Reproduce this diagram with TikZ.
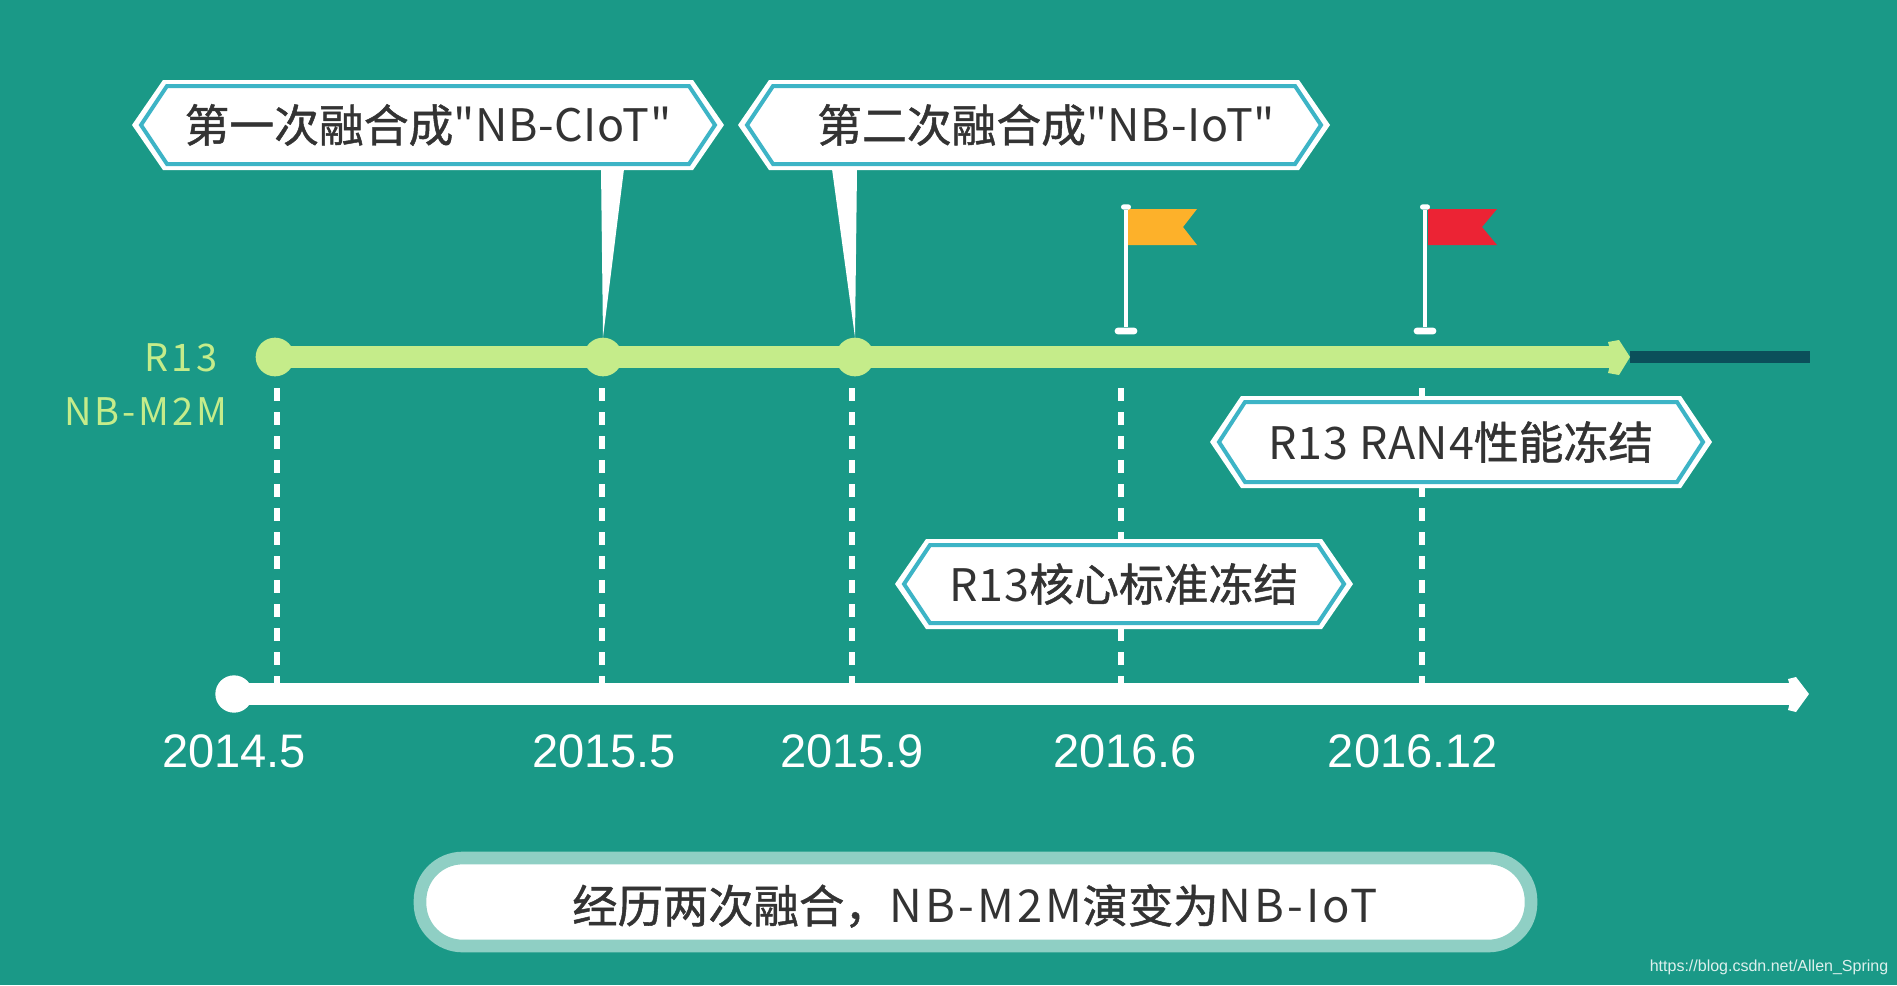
\documentclass[tikz,border=0pt]{standalone}
\usepackage{fontspec}
\setmainfont{Liberation Sans}
\newfontfamily\cjk[FakeBold=1]{Noto Sans CJK SC}
\newfontfamily\latA[LetterSpace=1.5]{Noto Sans CJK SC}
\newfontfamily\latB[LetterSpace=7]{Noto Sans CJK SC}
\newfontfamily\latC[LetterSpace=8]{Noto Sans CJK SC}
\usetikzlibrary{arrows.meta,shapes.geometric}
\definecolor{bgteal}{HTML}{1A9987}
\definecolor{hexline}{HTML}{3DB4C6}
\definecolor{limeg}{HTML}{C5EC8A}
\definecolor{darkline}{HTML}{0B4F5A}
\definecolor{pillrim}{HTML}{8FCFC4}
\definecolor{inkgrey}{HTML}{333333}
\definecolor{flagor}{HTML}{FDB12A}
\definecolor{flagrd}{HTML}{EC2334}
\tikzset{
  hextext/.style={text=inkgrey,font=\fontsize{33.6}{40}\selectfont,inner sep=0pt},
  sumtext/.style={text=inkgrey,font=\fontsize{34}{40}\selectfont,inner sep=0pt},
  datetext/.style={text=white,font=\fontsize{35.3}{42}\selectfont,inner sep=0pt},
  limetext/.style={text=limeg,font=\latC\fontsize{28.5}{32}\selectfont,inner sep=0pt},
  limedot/.style={circle,fill=limeg,minimum size=29pt,inner sep=0pt},
  whitedot/.style={circle,fill=white,minimum size=28pt,inner sep=0pt},
  timeline/.style={limeg,line width=16.5pt},
  axisline/.style={white,line width=17pt},
  dropline/.style={white,line width=4pt,dash pattern=on 10pt off 8pt},
  pole/.style={white,line width=3pt},
  polebase/.style={rectangle,rounded corners=2.4pt,fill=white,minimum width=17pt,minimum height=5pt,inner sep=0pt},
  poletop/.style={rectangle,rounded corners=2pt,fill=white,minimum width=7.5pt,minimum height=4pt,inner sep=0pt}
}
\newcommand{\hexlabel}[6]{%
  \fill[white] (#2-#4,#3) -- (#2-#4+31,#3-#5) -- (#2+#4-31,#3-#5) -- (#2+#4,#3) -- (#2+#4-31,#3+#5) -- (#2-#4+31,#3+#5) -- cycle;
  \draw[hexline,line width=3pt,fill=white,line join=miter] (#2-#4+9,#3) -- (#2-#4+35,#3-#5+6) -- (#2+#4-35,#3-#5+6) -- (#2+#4-9,#3) -- (#2+#4-35,#3+#5-6) -- (#2-#4+35,#3+#5-6) -- cycle;
  \node[hextext] (#1) at (#2,#3) {#6};
}
\begin{document}
\begin{tikzpicture}[x=0.75pt,y=-0.75pt]
\useasboundingbox (0,0) rectangle (1897,985);
\fill[bgteal] (0,0) rectangle (1897,985);

% named positions
\coordinate (g0) at (275,357);
\coordinate (ge) at (1616,357);
\coordinate (gt) at (1630,357);
\coordinate (de) at (1810,357);
\coordinate (a0) at (234,694);
\coordinate (ae) at (1795,694);
\coordinate (at) at (1809,694);

% dropped dashed lines
\foreach \nm/\xx in {d1/277,d2/602,d3/852,d4/1121,d5/1422}{
  \coordinate (\nm t) at (\xx,388);
  \coordinate (\nm b) at (\xx,686);
  \draw[dropline] (\nm t) -- (\nm b);
}

% timelines
\draw[darkline,line width=8.5pt] (gt) -- (de);
\node[limedot] (c1) at (g0) {};
\node[limedot] (c2) at (603,357) {};
\node[limedot] (c3) at (855,357) {};
\draw[timeline] (c1.center) -- (ge);
\fill[limeg] (1608,342) -- (1619,340) -- (gt) -- (1619,375) -- (1608,373) -- (1612,357) -- cycle;

\node[whitedot] (s0) at (a0) {};
\draw[axisline] (s0.center) -- (ae);
\fill[white] (1788,679) -- (1796,677) -- (at) -- (1796,712) -- (1788,710) -- (1792,694) -- cycle;

% pointers
\hexlabel{h1}{428}{125}{296}{45}{\raisebox{-1.5pt}{{\cjk 第一次融合成}{\latA "NB-CIoT"}}}
\hexlabel{h2}{1034}{125}{296}{45}{\hspace*{18pt}{\cjk 第二次融合成}{\latA "NB-IoT"}}
\fill[white] (601,169) -- (624,169) -- (c2.north) -- cycle;
\fill[white] (832,169) -- (857,169) -- (c3.north) -- cycle;

% flags
\fill[flagor] (1128,209) -- (1197,209) -- (1183,227) -- (1197,245) -- (1128,245) -- cycle;
\fill[flagrd] (1428,209) -- (1497,209) -- (1482,227) -- (1497,245) -- (1428,245) -- cycle;
\node[poletop] (f1t) at (1126,207) {};
\node[polebase] (f1b) at (1126,331) {};
\draw[pole] (f1t) -- (f1b);
\node[poletop] (f2t) at (1425,207) {};
\node[polebase] (f2b) at (1425,331) {};
\draw[pole] (f2t) -- (f2b);

\hexlabel{h3}{1124}{584}{229}{45}{{\latA R13}{\cjk 核心标准冻结}}
\hexlabel{h4}{1461}{442}{251}{46}{{\latA R13 RAN4}{\cjk 性能冻结}}

% labels
\node[limetext] (r13) at (181,358) {R13};
\node[limetext] (nbm) at (146,412) {NB-M2M};
\node[datetext] (t1) at (234,751) {2014.5};
\node[datetext] (t2) at (604,751) {2015.5};
\node[datetext] (t3) at (852,751) {2015.9};
\node[datetext] (t4) at (1125,751) {2016.6};
\node[datetext] (t5) at (1413,751) {2016.12};

% summary pill
\draw[pillrim,line width=9.5pt,fill=white,rounded corners=32pt] (420,858) rectangle (1531,946);
\node[sumtext] (sum) at (975,906) {{\cjk 经历两次融合，}{\latB NB-M2M}{\cjk 演变为}{\latB NB-IoT}};

\node[text=white!85!bgteal,font=\fontsize{12}{14}\selectfont,inner sep=0pt] (wm) at (1769,967) {https://blog.csdn.net/Allen\_Spring};
\end{tikzpicture}
\end{document}
